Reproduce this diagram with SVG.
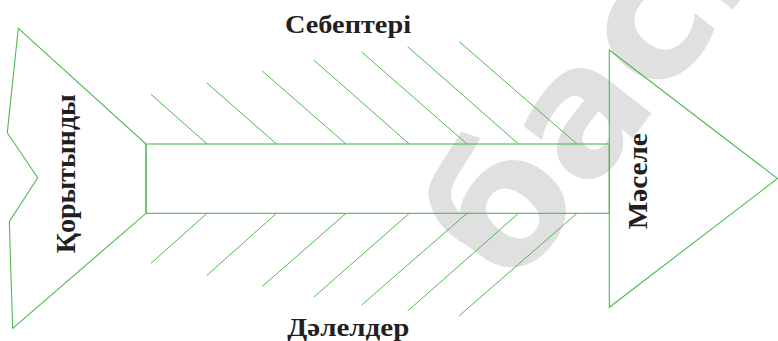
<svg xmlns="http://www.w3.org/2000/svg" width="778" height="341" viewBox="0 0 778 341">
<style>
.ln{fill:none;stroke:#4fb94f;stroke-width:1.1;stroke-linejoin:miter}
.bone{fill:none;stroke:#4fb94f;stroke-width:1}
.lbl{font-family:"Liberation Serif","DejaVu Serif",serif;font-weight:bold;fill:#231f20}
.wm{font-family:"DejaVu Sans","Liberation Sans",sans-serif;font-weight:bold;fill:#e0e0e0}
</style>
<rect width="778" height="341" fill="#ffffff"/>
<g id="watermark">
<text class="wm" font-size="175" transform="translate(512,292) rotate(-52)">баспа</text>
</g>
<g id="tail">
<polygon class="ln" points="18.3,28.3 7.3,132.7 37.7,177.7 9.3,221.7 12.7,328.3 146,213.3 146,144"/>
<text class="lbl" font-size="28" text-anchor="middle" transform="translate(75,173.7) rotate(-90)" textLength="159" lengthAdjust="spacingAndGlyphs">Қорытынды</text>
</g>
<g id="spine">
<rect class="ln" x="146" y="144" width="463.3" height="69.3"/>
</g>
<g id="head">
<polygon class="ln" points="609.3,50 777.5,178.5 609.3,307.3"/>
<text class="lbl" font-size="28" text-anchor="middle" transform="translate(647.3,181.3) rotate(-90)" textLength="96" lengthAdjust="spacingAndGlyphs">Мәселе</text>
</g>
<g id="connectors">
<line class="bone" x1="151" y1="94.3" x2="207" y2="144"/>
<line class="bone" x1="207" y1="83" x2="276.5" y2="144"/>
<line class="bone" x1="262.3" y1="71" x2="346" y2="144"/>
<line class="bone" x1="314" y1="60.3" x2="409.3" y2="144"/>
<line class="bone" x1="361.7" y1="52" x2="467" y2="144"/>
<line class="bone" x1="407.7" y1="46.7" x2="518.5" y2="144"/>
<line class="bone" x1="459.3" y1="41.7" x2="577" y2="144"/>
<line class="bone" x1="151" y1="263.3" x2="207" y2="213.3"/>
<line class="bone" x1="207" y1="275.3" x2="276.5" y2="213.3"/>
<line class="bone" x1="262.3" y1="286.3" x2="346" y2="213.3"/>
<line class="bone" x1="314" y1="297" x2="409.3" y2="213.3"/>
<line class="bone" x1="361.7" y1="305" x2="467" y2="213.3"/>
<line class="bone" x1="407.7" y1="311" x2="518.5" y2="213.3"/>
<line class="bone" x1="459.3" y1="315.7" x2="577" y2="213.3"/>
</g>
<g id="causes">
<text class="lbl" font-size="26" x="285" y="33.3" textLength="126" lengthAdjust="spacingAndGlyphs">Себептері</text>
</g>
<g id="effects">
<text class="lbl" font-size="25" x="287.3" y="335.5" textLength="122" lengthAdjust="spacingAndGlyphs">Дәлелдер</text>
</g>
</svg>
